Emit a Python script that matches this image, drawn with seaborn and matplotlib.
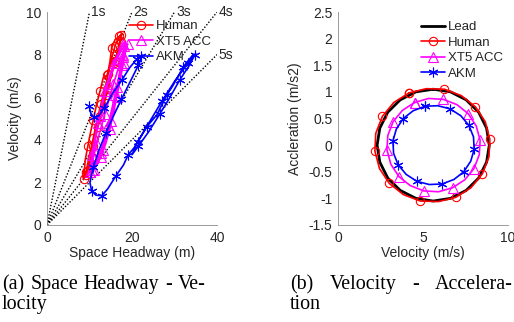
import matplotlib
matplotlib.use("Agg")
import matplotlib.pyplot as plt
from matplotlib.lines import Line2D
import seaborn as sns

# ---------------- data ----------------
# (a) space headway (m) vs velocity (m/s)
human_s = [8.6, 9.0, 9.6, 10.3, 10.9, 11.6, 12.5, 13.2, 14.2, 14.8, 15.2, 16.0, 17.0, 17.6,
           17.3, 16.6, 15.8, 15.0, 14.2, 13.3, 12.4, 11.5, 10.8, 10.3, 9.5, 8.9,
           9.2, 9.9, 10.9, 11.8, 12.7, 13.6, 14.4, 15.2, 16.0, 16.8, 17.4,
           16.9, 16.0, 15.0, 14.0, 13.0, 12.0, 11.2, 10.5, 9.8, 9.2, 8.6]
human_v = [2.15, 3.05, 3.7, 4.4, 4.95, 5.6, 6.3, 6.9, 7.05, 7.65, 8.3, 8.7, 8.85, 9.0,
           8.6, 8.1, 7.6, 7.0, 6.4, 5.8, 5.1, 4.4, 3.7, 3.1, 2.55, 2.3,
           2.5, 3.2, 4.1, 4.9, 5.7, 6.4, 7.1, 7.8, 8.4, 8.8, 8.9,
           8.4, 7.7, 6.9, 6.1, 5.4, 4.6, 3.9, 3.2, 2.7, 2.35, 2.2]

acc_s = [10.0, 10.8, 11.7, 12.6, 13.6, 14.6, 15.6, 16.7, 17.8, 18.6, 19.0,
         18.4, 17.6, 16.8, 16.0, 15.2, 14.4, 13.5, 12.6, 11.6, 10.7,
         10.2, 10.6, 11.2, 12.0, 12.8, 13.7, 14.7, 15.8, 16.9, 17.8, 18.3,
         17.9, 17.2, 16.5, 15.8, 15.0, 14.1, 13.1, 12.0, 11.0,
         10.6, 11.0, 11.6, 12.4, 13.3, 14.3, 15.4, 16.5, 17.5, 18.2, 18.6,
         18.0, 17.2, 16.4, 15.6, 14.8, 13.8, 12.7, 11.6]
acc_v = [2.5, 3.1, 3.8, 4.5, 5.2, 5.9, 6.6, 7.3, 7.9, 8.4, 8.5,
         8.1, 7.5, 6.8, 6.1, 5.4, 4.7, 4.0, 3.4, 2.9, 2.6,
         2.7, 3.3, 4.0, 4.8, 5.6, 6.3, 7.0, 7.6, 8.1, 8.5, 8.6,
         8.0, 7.3, 6.5, 5.7, 4.9, 4.2, 3.5, 2.9, 2.6,
         2.8, 3.5, 4.3, 5.1, 5.9, 6.6, 7.2, 7.8, 8.2, 8.4, 8.3,
         7.6, 6.8, 6.0, 5.2, 4.5, 3.8, 3.2, 2.8]

akm_s = [9.9, 10.3, 11.0, 12.1, 13.5, 15.5, 17.6, 19.5, 21.2, 22.5,
         21.5, 19.5, 17.5, 15.6, 13.8, 12.2, 10.9, 10.1,
         10.5, 11.5, 12.9, 14.3, 16.2, 18.0, 19.1, 20.7, 23.5, 25.8, 28.2, 29.7, 32.1, 34.3, 34.8,
         33.5, 31.2, 28.8, 26.5, 24.0, 21.5, 20.0,
         21.3, 24.0, 27.0, 30.2, 33.2, 35.0]
akm_v = [5.6, 5.25, 5.05, 5.1, 5.5, 6.2, 6.8, 7.4, 7.8, 7.98,
         7.5, 6.7, 5.9, 5.1, 4.3, 3.5, 2.7, 2.0,
         1.6, 1.4, 1.38, 1.7, 2.3, 2.82, 3.29, 3.68, 4.62, 5.16, 6.1, 6.57, 7.43, 7.98, 8.0,
         7.5, 6.8, 5.95, 5.2, 4.4, 3.7, 3.3,
         3.9, 4.8, 5.8, 6.8, 7.6, 8.05]

headways = [1, 2, 3, 4, 5]
headway_labels = ["1s", "2s", "3s", "4s", "5s"]
headway_end_s = [10, 20, 30, 40, 40]

# (b) velocity (m/s) vs acceleration (m/s2)
lead_v = [5.6, 6.62, 7.54, 8.27, 8.74, 8.9, 8.74, 8.27, 7.54, 6.62, 5.6,
          4.58, 3.66, 2.93, 2.46, 2.3, 2.46, 2.93, 3.66, 4.58, 5.6]
lead_a = [1.05, 1.0, 0.85, 0.62, 0.32, 0.0, -0.32, -0.62, -0.85, -1.0, -1.05,
          -1.0, -0.85, -0.62, -0.32, 0.0, 0.32, 0.62, 0.85, 1.0, 1.05]

hum_v = [4.17, 5.19, 6.26, 7.25, 8.08, 8.66, 8.93, 8.88, 8.49, 7.82, 6.93,
         5.91, 4.84, 3.85, 3.02, 2.44, 2.17, 2.22, 2.61, 3.28, 4.17]
hum_a = [0.98, 1.06, 1.05, 0.93, 0.72, 0.44, 0.11, -0.22, -0.54, -0.80, -0.98,
         -1.06, -1.05, -0.93, -0.72, -0.44, -0.11, 0.22, 0.54, 0.80, 0.98]

xt5_v = [4.50, 5.33, 6.19, 7.0, 7.66, 8.13, 8.36, 8.31, 8.0, 7.46, 6.74,
         5.91, 5.05, 4.25, 3.58, 3.11, 2.88, 2.93, 3.24, 3.78, 4.50]
xt5_a = [0.80, 0.876, 0.86, 0.76, 0.59, 0.36, 0.09, -0.18, -0.44, -0.65, -0.80,
         -0.876, -0.86, -0.76, -0.59, -0.36, -0.09, 0.18, 0.44, 0.65, 0.80]

akm_cv = [5.12, 5.87, 6.60, 7.23, 7.70, 7.97, 8.01, 7.81, 7.40, 6.82, 6.12,
          5.37, 4.64, 4.01, 3.54, 3.27, 3.23, 3.43, 3.84, 4.42, 5.12]
akm_ca = [0.73, 0.74, 0.68, 0.55, 0.37, 0.155, -0.08, -0.30, -0.50, -0.645, -0.73,
          -0.74, -0.68, -0.55, -0.37, -0.155, 0.08, 0.30, 0.50, 0.645, 0.73]

x_ticks_a = [0, 20, 40]
y_ticks_a = [0, 2, 4, 6, 8, 10]
x_ticks_b = [0, 5, 10]
y_ticks_b = [-1.5, -1, -0.5, 0, 0.5, 1, 1.5, 2, 2.5]

caption_a = [["(a)", "Space", "Headway", "-", "Ve-"], ["locity"]]
caption_b = [["(b)", "Velocity", "-", "Accelera-"], ["tion"]]

# ---------------- style ----------------
sns.set_theme(style="white")
plt.rcParams["font.family"] = ["Liberation Sans", "DejaVu Sans"]
plt.rcParams["axes.unicode_minus"] = False

RED, MAG, BLUE = "#ff0000", "#ff00ff", "#0000ff"
TXT = "#262626"
SPINE = "#8a8a8a"
STAR = (6, 2, 0)
W, H = 514, 322

fig = plt.figure(figsize=(W / 100, H / 100), dpi=100)
axA = fig.add_axes([47 / W, 97 / H, 170 / W, 213 / H])
axB = fig.add_axes([338 / W, 97 / H, 170 / W, 213 / H])


def style_axes(ax):
    for side in ("top", "right"):
        ax.spines[side].set_visible(False)
    for side in ("left", "bottom"):
        ax.spines[side].set_color(SPINE)
        ax.spines[side].set_linewidth(0.6)
    ax.tick_params(direction="in", length=3, width=0.6, color=SPINE,
                   labelsize=10, labelcolor=TXT, pad=4)
    ax.set_facecolor("white")


def fmt(v):
    return f"{v:g}"


common = dict(sort=False, estimator=None, linewidth=1.2)

# ---------------- (a) ----------------
for t, lab, se in zip(headways, headway_labels, headway_end_s):
    sns.lineplot(x=[0, se], y=[0, se / t], ax=axA, color="black",
                 linestyle=(0, (1, 1.3)), linewidth=1.0, sort=False, estimator=None)
    axA.text(se + 0.4, se / t, lab, ha="left", va="center", fontsize=10, color=TXT)

sns.lineplot(x=human_s, y=human_v, ax=axA, color=RED, marker="o", markersize=6,
             markerfacecolor="none", markeredgecolor=RED, markeredgewidth=0.8,
             markevery=2, **common)
sns.lineplot(x=acc_s, y=acc_v, ax=axA, color=MAG, marker="^", markersize=6.5,
             markerfacecolor="none", markeredgecolor=MAG, markeredgewidth=0.8,
             markevery=2, **common)
sns.lineplot(x=akm_s, y=akm_v, ax=axA, color=BLUE, marker=STAR, markersize=7,
             markerfacecolor="none", markeredgecolor=BLUE, markeredgewidth=0.8,
             markevery=2, **common)

axA.set_xlim(0, 40)
axA.set_ylim(0, 10)
axA.set_xticks(x_ticks_a)
axA.set_xticklabels([fmt(v) for v in x_ticks_a])
axA.set_yticks(y_ticks_a)
axA.set_yticklabels([fmt(v) for v in y_ticks_a])
axA.set_xlabel("Space Headway (m)", fontsize=10, color=TXT, labelpad=1)
axA.set_ylabel("Velocity (m/s)", fontsize=10, color=TXT, labelpad=3)
style_axes(axA)

hA = [Line2D([], [], color=RED, lw=1.2, marker="o", ms=6, mfc="none", mec=RED, mew=0.8),
      Line2D([], [], color=MAG, lw=1.2, marker="^", ms=6.5, mfc="none", mec=MAG, mew=0.8),
      Line2D([], [], color=BLUE, lw=1.2, marker=STAR, ms=7, mfc="none", mec=BLUE, mew=0.8)]
fig.legend(hA, ["Human", "XT5 ACC", "AKM"], loc="upper left",
           bbox_to_anchor=(129 / W, 1 - 20 / H), frameon=False, fontsize=9.5,
           handlelength=1.85, handletextpad=0.2, labelspacing=0.25, borderpad=0,
           borderaxespad=0, labelcolor=TXT)

# ---------------- (b) ----------------
sns.lineplot(x=lead_v, y=lead_a, ax=axB, color="black", sort=False, estimator=None,
             linewidth=2.0)
sns.lineplot(x=hum_v, y=hum_a, ax=axB, color=RED, marker="o", markersize=6,
             markerfacecolor="none", markeredgecolor=RED, markeredgewidth=0.8,
             markevery=2, **common)
sns.lineplot(x=xt5_v, y=xt5_a, ax=axB, color=MAG, marker="^", markersize=6.5,
             markerfacecolor="none", markeredgecolor=MAG, markeredgewidth=0.8,
             markevery=2, **common)
sns.lineplot(x=akm_cv, y=akm_ca, ax=axB, color=BLUE, marker=STAR, markersize=7,
             markerfacecolor="none", markeredgecolor=BLUE, markeredgewidth=0.8,
             markevery=2, **common)

axB.set_xlim(0, 10)
axB.set_ylim(-1.5, 2.5)
axB.set_xticks(x_ticks_b)
axB.set_xticklabels([fmt(v) for v in x_ticks_b])
axB.set_yticks(y_ticks_b)
axB.set_yticklabels([fmt(v) for v in y_ticks_b])
axB.set_xlabel("Velocity (m/s)", fontsize=10, color=TXT, labelpad=1)
axB.set_ylabel("Accleration (m/s2)", fontsize=10, color=TXT, labelpad=5)
style_axes(axB)

hB = [Line2D([], [], color="black", lw=2.0)] + hA
fig.legend(hB, ["Lead", "Human", "XT5 ACC", "AKM"], loc="upper left",
           bbox_to_anchor=(421 / W, 1 - 21 / H), frameon=False, fontsize=9.5,
           handlelength=1.85, handletextpad=0.2, labelspacing=0.25, borderpad=0,
           borderaxespad=0, labelcolor=TXT)

# ---------------- captions (justified like the paper column) ----------------
cap = dict(fontsize=14.4, family=["Liberation Serif", "DejaVu Serif"], color="black",
           va="baseline", ha="left")
renderer = fig.canvas.get_renderer()


def justified_line(words, x0, x1, ybase):
    texts = [fig.text(x0 / W, 1 - ybase / H, w, **cap) for w in words]
    if len(words) == 1:
        return
    widths = [t.get_window_extent(renderer).width for t in texts]
    gap = (x1 - x0 - sum(widths)) / (len(words) - 1)
    x = x0
    for t, wdt in zip(texts, widths):
        t.set_x(x / W)
        x += wdt + gap


justified_line(caption_a[0], 2, 206, 289)
justified_line(caption_a[1], 2, 206, 309)
justified_line(caption_b[0], 290, 513, 289)
justified_line(caption_b[1], 290, 513, 309)

fig.savefig("out.png", dpi=100, facecolor="white")
